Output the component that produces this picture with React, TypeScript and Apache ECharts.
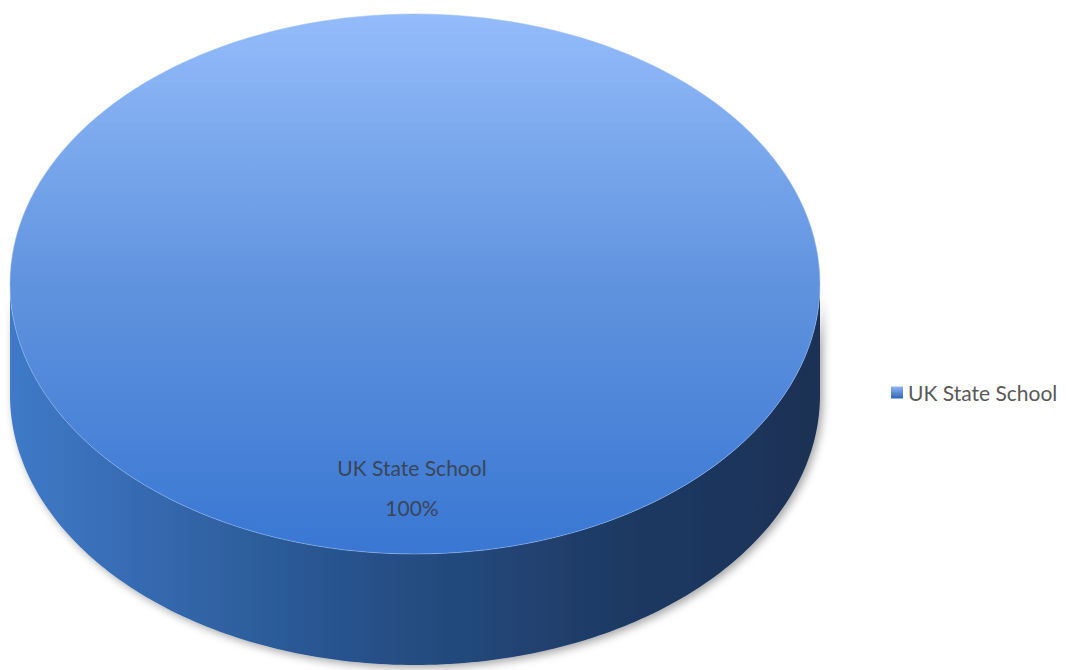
import React, { useEffect, useRef } from "react";
import * as echarts from "echarts";

const categories = ["UK State School"];
const values = [100];

export default function App() {
  const ref = useRef<HTMLDivElement>(null);
  useEffect(() => {
    document.body.style.margin = "0";
    const chart = echarts.init(ref.current!, null, { renderer: "svg" });
    const cx = 415;
    const rx = 405;
    const ry = 270;
    const cyTop = 284;
    const depth = 111;
    const cyBot = cyTop + depth;
    const total = values.reduce((a, b) => a + b, 0);
    const font = "Lato, 'Open Sans', sans-serif";

    const renderItem = (params: any, api: any) => {
      const i = params.dataIndex;
      let before = 0;
      for (let k = 0; k < i; k++) before += values[k];
      const v = api.value(0);
      const a0 = -Math.PI / 2 + (before / total) * Math.PI * 2;
      const a1 = a0 + (v / total) * Math.PI * 2;
      const full = v / total >= 0.9999;
      const N = 180;
      const top: number[][] = [];
      if (!full) top.push([cx, cyTop]);
      for (let s = 0; s <= N; s++) {
        const t = a0 + ((a1 - a0) * s) / N;
        top.push([cx + rx * Math.cos(t), cyTop + ry * Math.sin(t)]);
      }
      const norm = (t: number) => ((t % (2 * Math.PI)) + 2 * Math.PI) % (2 * Math.PI);
      let s0: number, s1: number;
      if (full) {
        s0 = 0;
        s1 = Math.PI;
      } else {
        const b0 = norm(a0);
        const b1 = b0 + (a1 - a0);
        s0 = Math.max(b0, 0);
        s1 = Math.min(b1, Math.PI);
      }
      const children: any[] = [];
      if (s1 > s0) {
        const side: number[][] = [];
        for (let s = 0; s <= N; s++) {
          const t = s0 + ((s1 - s0) * s) / N;
          side.push([cx + rx * Math.cos(t), cyBot + ry * Math.sin(t)]);
        }
        for (let s = N; s >= 0; s--) {
          const t = s0 + ((s1 - s0) * s) / N;
          side.push([cx + rx * Math.cos(t), cyTop + ry * Math.sin(t)]);
        }
        children.push({
          type: "polygon",
          shape: { points: side },
          style: {
            fill: new echarts.graphic.LinearGradient(1, 0, 0, 0, [
              { offset: 0, color: "#1b3154" },
              { offset: 0.25, color: "#1e3a64" },
              { offset: 0.6, color: "#28548e" },
              { offset: 1, color: "#3f7ac8" },
            ]),
            shadowBlur: 8,
            shadowColor: "rgba(0,0,0,0.35)",
            shadowOffsetX: 3,
            shadowOffsetY: 3,
          },
        });
      }
      children.push({
        type: "polygon",
        shape: { points: top },
        style: {
          fill: new echarts.graphic.LinearGradient(0, 0, 0, 1, [
            { offset: 0, color: "#94bcfb" },
            { offset: 0.5, color: "#6093de" },
            { offset: 1, color: "#3977d3" },
          ]),
          stroke: "rgba(150,190,250,0.5)",
          lineWidth: 1,
        },
      });
      const pct = Math.round((v / total) * 100);
      children.push({
        type: "text",
        x: cx - 3,
        y: 487,
        style: {
          text: `${categories[i]}\n${pct}%`,
          fill: "#3a4656",
          font: `21px ${font}`,
          fontFamily: font,
          fontSize: 21,
          lineHeight: 40,
          align: "center",
          verticalAlign: "middle",
        },
      });
      return { type: "group", children };
    };

    chart.setOption({
      animation: false,
      backgroundColor: "#ffffff",
      legend: {
        data: [{ name: categories[0], icon: "rect" }],
        left: 886,
        top: 377,
        itemWidth: 12,
        itemHeight: 12,
        textStyle: { fontSize: 21, color: "#595959", fontFamily: font },
      },
      series: [
        {
          type: "custom",
          name: categories[0],
          coordinateSystem: "none",
          renderItem,
          itemStyle: {
            color: new echarts.graphic.LinearGradient(0, 0, 0, 1, [
              { offset: 0, color: "#8fb6f4" },
              { offset: 1, color: "#2f64b4" },
            ]),
          },
          data: categories.map((c, i) => ({ name: c, value: [values[i]] })),
        },
      ],
    });
    return () => chart.dispose();
  }, []);
  return <div ref={ref} style={{ width: 1066, height: 670 }} />;
}
